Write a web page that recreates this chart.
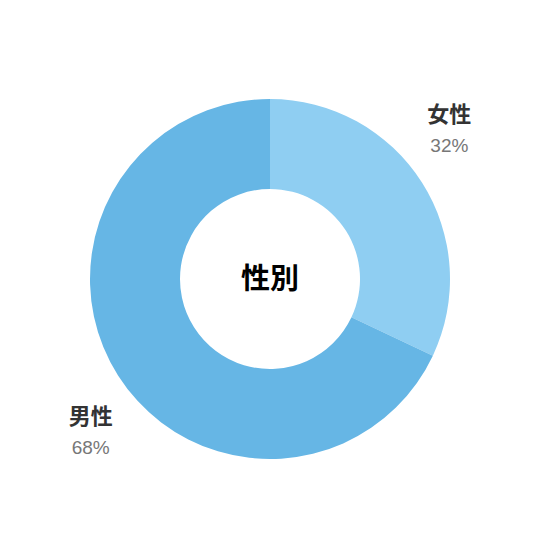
<!DOCTYPE html>
<html>
<head>
<meta charset="utf-8">
<script src="https://cdn.jsdelivr.net/npm/d3@7"></script>
<style>
  body { margin: 0; background: #fff; }
</style>
</head>
<body>
<div id="chart"></div>
<script>
const categories = ['女性', '男性']
const values = [32, 68]
const colors = ['#8fcef2', '#66b6e5']
const title = '性別'

const width = 540
const height = 558
const cx = 270
const cy = 279
const outer = 180
const inner = 90

const cjk = '"Noto Sans CJK JP", "Noto Sans", sans-serif'

const svg = d3
  .select('#chart')
  .append('svg')
  .attr('width', width)
  .attr('height', height)

const g = svg.append('g').attr('transform', 'translate(' + cx + ',' + cy + ')')

const data = categories.map((c, i) => ({ name: c, value: values[i], color: colors[i] }))

const pie = d3
  .pie()
  .sort(null)
  .value(d => d.value)

const arc = d3
  .arc()
  .innerRadius(inner)
  .outerRadius(outer)

const arcs = pie(data)

g.selectAll('.slice')
  .data(arcs)
  .enter()
  .append('path')
  .attr('class', 'slice')
  .attr('d', arc)
  .attr('fill', d => d.data.color)

g.append('text')
  .attr('text-anchor', 'middle')
  .attr('dy', '0.36em')
  .style('font-family', cjk)
  .style('font-size', '29px')
  .style('font-weight', 700)
  .attr('fill', '#000')
  .text(title)

// label positions follow each slice's middle angle
const rx = outer * 1.18
const ry = outer * 1.57

const labels = g
  .selectAll('.label')
  .data(arcs)
  .enter()
  .append('g')
  .attr('class', 'label')
  .attr('transform', d => {
    const a = (d.startAngle + d.endAngle) / 2
    return 'translate(' + Math.sin(a) * rx + ',' + -Math.cos(a) * ry + ')'
  })

labels
  .append('text')
  .attr('text-anchor', 'middle')
  .attr('y', -6)
  .style('font-family', cjk)
  .style('font-size', '22px')
  .style('font-weight', 700)
  .attr('fill', '#333')
  .text(d => d.data.name)

labels
  .append('text')
  .attr('text-anchor', 'middle')
  .attr('y', 24)
  .style('font-family', '"Liberation Sans", sans-serif')
  .style('font-size', '19px')
  .attr('fill', '#777')
  .text(d => d.data.value + '%')
</script>
</body>
</html>
